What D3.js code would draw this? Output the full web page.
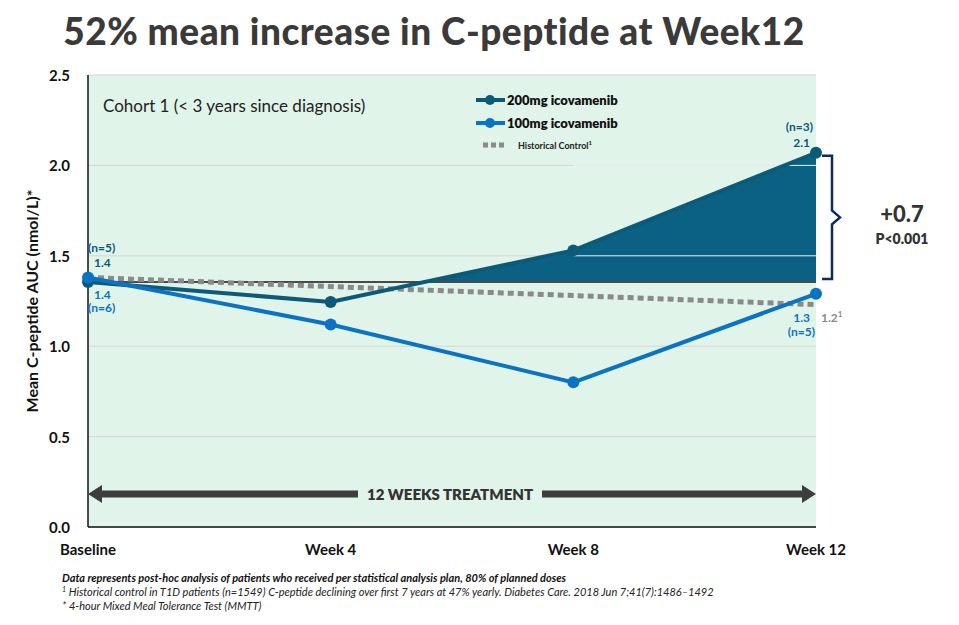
<!DOCTYPE html>
<html><head><meta charset="utf-8">
<script src="https://cdn.jsdelivr.net/npm/d3@7"></script>
<style>body{margin:0;background:#fff;font-family:Lato,"Open Sans",sans-serif}</style>
</head><body><svg id="c" width="959" height="625"></svg>
<script>
var weeks = ["Baseline", "Week 4", "Week 8", "Week 12"];
var dose200 = [1.355, 1.245, 1.53, 2.07];
var dose100 = [1.38, 1.12, 0.80, 1.29];
var histControl = [1.38, 1.33, 1.28, 1.23];
var refLevel = 1.355;
var yTicks = [0, 0.5, 1.0, 1.5, 2.0, 2.5];

var svg = d3.select("#c");
var pLeft = 88, pRight = 816, pTop = 75, pBottom = 527;
var x = d3.scalePoint().domain(weeks).range([pLeft, pRight]);
var y = d3.scaleLinear().domain([0, 2.5]).range([pBottom, pTop]);
var c200 = "#0d5a78", c100 = "#0a73c4", cHist = "#8a8a8a";

svg.append("text").attr("x", 434).attr("y", 45).attr("text-anchor", "middle")
    .style("font-size", "37px").style("font-weight", "900").style("fill", "#3a3a3a")
    .style("letter-spacing", "0.5px")
    .text("52% mean increase in C-peptide at Week12");

// background
svg.append("rect").attr("x", pLeft).attr("y", pTop).attr("width", pRight - pLeft).attr("height", pBottom - pTop)
    .style("fill", "#e1f4ea");

// grid
yTicks.forEach(function (t) {
    svg.append("line").attr("x1", pLeft).attr("x2", pRight).attr("y1", y(t)).attr("y2", y(t))
        .style("stroke", "#d6d6d6").style("stroke-width", 1);
});

// filled gain area (above reference only)
var defs = svg.append("defs");
defs.append("clipPath").attr("id", "above").append("rect")
    .attr("x", pLeft).attr("y", pTop).attr("width", pRight - pLeft).attr("height", y(refLevel) - pTop);
var pts = weeks.map(function (w, i) { return [w, dose200[i]]; });
svg.append("path").datum(pts.slice(1)).attr("clip-path", "url(#above)")
    .attr("d", d3.area().x(function (d) { return x(d[0]); }).y0(y(refLevel)).y1(function (d) { return y(d[1]); }))
    .style("fill", "#0b6183");
[1.5, 2.0].forEach(function (t) {
    svg.append("line").attr("x1", x("Week 8")).attr("x2", pRight).attr("y1", y(t)).attr("y2", y(t))
        .attr("clip-path", "url(#above)").style("stroke", "#e8eef0").style("stroke-width", 1);
});
svg.append("line").attr("x1", pLeft).attr("x2", pRight).attr("y1", y(refLevel)).attr("y2", y(refLevel))
    .style("stroke", "#4a4a4a").style("stroke-width", 2);

// axes
svg.append("line").attr("x1", pLeft).attr("x2", pLeft).attr("y1", pTop).attr("y2", pBottom).style("stroke", "#111").style("stroke-width", 1.5);
svg.append("line").attr("x1", pLeft).attr("x2", pRight).attr("y1", pBottom).attr("y2", pBottom).style("stroke", "#111").style("stroke-width", 1.5);
yTicks.forEach(function (t) {
    svg.append("text").attr("x", 70).attr("y", y(t) + 6).attr("text-anchor", "end")
        .style("font-size", "15px").style("font-weight", "700").style("fill", "#111").text(t.toFixed(1));
});
weeks.forEach(function (w) {
    svg.append("text").attr("x", x(w)).attr("y", 555).attr("text-anchor", "middle")
        .style("font-size", "15px").style("font-weight", "700").style("fill", "#111").text(w);
});
svg.append("text").attr("transform", "translate(38," + (pTop + pBottom) / 2 + ") rotate(-90)")
    .attr("text-anchor", "middle").style("font-size", "16px").style("font-weight", "700").style("fill", "#111")
    .text("Mean C-peptide AUC (nmol/L)*");

var line = d3.line().x(function (d, i) { return x(weeks[i]); }).y(function (d) { return y(d); });
svg.append("path").datum(histControl).attr("d", line).style("fill", "none")
    .style("stroke", cHist).style("stroke-width", 5).style("stroke-dasharray", "6,4");
[[dose200, c200], [dose100, c100]].forEach(function (s) {
    svg.append("path").datum(s[0]).attr("d", line).style("fill", "none").style("stroke", s[1]).style("stroke-width", 4);
    svg.selectAll(null).data(s[0]).enter().append("circle")
        .attr("cx", function (d, i) { return x(weeks[i]); }).attr("cy", function (d) { return y(d); })
        .attr("r", 6).style("fill", s[1]);
});

// treatment arrow
var ay = 494;
function arrow(x1, x2) {
    svg.append("line").attr("x1", x1).attr("x2", x2).attr("y1", ay).attr("y2", ay).style("stroke", "#3d3d3d").style("stroke-width", 7);
}
arrow(pLeft + 10, 358); arrow(542, pRight - 10);
svg.append("path").attr("d", "M" + pLeft + "," + ay + "l14,-9v18z").style("fill", "#3d3d3d");
svg.append("path").attr("d", "M" + pRight + "," + ay + "l-14,-9v18z").style("fill", "#3d3d3d");
svg.append("text").attr("x", 450).attr("y", ay + 6).attr("text-anchor", "middle")
    .style("font-size", "15px").style("font-weight", "800").style("fill", "#333").text("12 WEEKS TREATMENT");

// labels
function lab(tx, ty, s, col, anchor, size, wt) {
    svg.append("text").attr("x", tx).attr("y", ty).attr("text-anchor", anchor || "start")
        .style("font-size", (size || 12) + "px").style("font-weight", wt || 700).style("fill", col).text(s);
}
lab(88, 252, "(n=5)", c200); lab(94, 267, "1.4", c200);
lab(94, 299, "1.4", c100); lab(88, 312, "(n=6)", c100);
lab(813, 131, "(n=3)", c200, "end"); lab(810, 147, "2.1", c200, "end");
lab(810, 322, "1.3", c100, "end"); lab(815, 336, "(n=5)", c100, "end");
svg.append("text").attr("x", 821).attr("y", 322).style("font-size", "12px").style("font-weight", 700).style("fill", cHist)
    .text("1.2").append("tspan").attr("dy", -5).style("font-size", "8px").text("1");
lab(103, 112, "Cohort 1 (< 3 years since diagnosis)", "#222", "start", 17, 400);

// legend
[["200mg icovamenib", c200, 100], ["100mg icovamenib", c100, 123]].forEach(function (l) {
    svg.append("line").attr("x1", 476).attr("x2", 505).attr("y1", l[2]).attr("y2", l[2]).style("stroke", l[1]).style("stroke-width", 4);
    svg.append("circle").attr("cx", 490).attr("cy", l[2]).attr("r", 5).style("fill", l[1]);
    lab(507, l[2] + 5, l[0], "#111", "start", 13, 800);
});
svg.append("line").attr("x1", 483).attr("x2", 505).attr("y1", 145).attr("y2", 145).style("stroke", cHist).style("stroke-width", 5).style("stroke-dasharray", "5,3");
svg.append("text").attr("x", 518).attr("y", 149).style("font-size", "9px").style("font-weight", 700).style("fill", "#222")
    .text("Historical Control").append("tspan").attr("dy", -4).style("font-size", "6px").text("1");

// brace
var b0 = y(2.07), b1 = y(refLevel), bm = (b0 + b1) / 2;
svg.append("path").attr("d", "M822," + (b0 + 3) + "h10v" + (bm - b0 - 10) + "l8,7l-8,7v" + (b1 - bm - 10) + "h-10")
    .style("fill", "none").style("stroke", "#0d2a5c").style("stroke-width", 2.5);
lab(902, 222, "+0.7", "#333", "middle", 22, 900);
lab(902, 244, "P<0.001", "#333", "middle", 14, 800);

// footnotes
svg.append("text").attr("x", 62).attr("y", 582).style("font-size", "11px").style("font-weight", 700).style("font-style", "italic").style("fill", "#111")
    .text("Data represents post-hoc analysis of patients who received per statistical analysis plan, 80% of planned doses");
var f2 = svg.append("text").attr("x", 62).attr("y", 596).style("font-size", "11px").style("font-style", "italic").style("fill", "#222");
f2.append("tspan").attr("dy", -4).style("font-size", "7px").text("1");
f2.append("tspan").attr("dy", 4).text(" Historical control in T1D patients (n=1549) C-peptide declining over first 7 years at 47% yearly. Diabetes Care. 2018 Jun 7;41(7):1486–1492");
svg.append("text").attr("x", 62).attr("y", 610).style("font-size", "11px").style("font-style", "italic").style("fill", "#222")
    .text("* 4-hour Mixed Meal Tolerance Test (MMTT)");
</script></body></html>
